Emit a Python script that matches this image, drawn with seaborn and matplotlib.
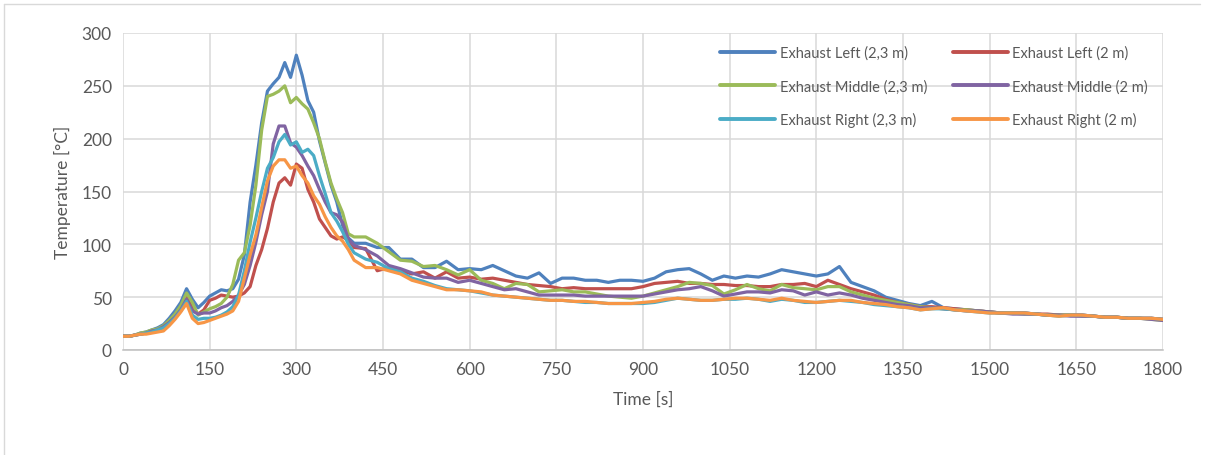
import numpy as np
import pandas as pd
import matplotlib
matplotlib.use("Agg")
import matplotlib.pyplot as plt
import seaborn as sns

# time axis: 10 s steps up to 400 s, 20 s steps after that
time_s = list(range(0, 401, 10)) + list(range(420, 1801, 20))

left_23 = [13, 13, 14, 16, 17, 19, 21, 24, 30, 37, 45, 58, 48, 40, 45, 51, 54, 57, 56, 58,
           67, 90, 140, 175, 215, 245, 252, 258, 272, 258, 279, 260, 236, 225, 198, 177, 156, 140, 118, 106,
           101,
           101, 97, 97, 86, 86, 78, 78, 84, 76, 77, 76, 80, 75, 70, 68, 73, 63, 68, 68, 66,
           66, 64, 66, 66, 65, 68, 74, 76, 77, 72, 66, 70, 68, 70, 69, 72, 76, 74, 72, 70,
           72, 79, 64, 60, 56, 50, 47, 44, 42, 46, 40, 39, 38, 37, 36, 35, 35, 35, 34, 33,
           33, 33, 33, 32, 31, 31, 30, 30, 30, 29]

left_2 = [13, 13, 14, 15, 16, 18, 19, 22, 27, 33, 40, 50, 40, 34, 38, 47, 49, 52, 51, 50,
          51, 54, 60, 80, 95, 115, 140, 158, 163, 156, 176, 172, 152, 140, 124, 116, 108, 105, 107, 104,
          97,
          96, 75, 78, 75, 72, 74, 68, 74, 68, 69, 67, 68, 66, 64, 62, 61, 60, 58, 59, 58,
          58, 58, 58, 58, 60, 63, 64, 65, 63, 63, 62, 62, 61, 61, 60, 60, 62, 62, 63, 60,
          66, 62, 58, 55, 52, 48, 45, 43, 41, 41, 40, 39, 38, 37, 36, 35, 35, 35, 34, 34,
          33, 33, 33, 32, 31, 31, 30, 30, 30, 29]

middle_23 = [13, 13, 14, 16, 17, 19, 20, 23, 28, 34, 42, 54, 45, 33, 36, 39, 41, 44, 50, 62,
             85, 92, 118, 156, 208, 240, 242, 245, 250, 234, 239, 233, 228, 215, 200, 178, 158, 143, 130, 110,
             107,
             107, 101, 93, 85, 84, 79, 80, 76, 71, 76, 66, 63, 58, 63, 62, 55, 56, 57, 55, 55,
             53, 51, 50, 49, 51, 54, 57, 60, 64, 63, 61, 53, 57, 62, 58, 56, 62, 59, 58, 57,
             60, 60, 55, 52, 49, 47, 45, 43, 41, 40, 39, 38, 38, 37, 36, 35, 35, 34, 34, 33,
             33, 33, 32, 32, 31, 31, 30, 30, 29, 28]

middle_2 = [13, 13, 14, 15, 16, 18, 19, 22, 26, 31, 38, 48, 37, 34, 35, 35, 37, 40, 42, 46,
            52, 62, 80, 102, 128, 150, 195, 212, 212, 196, 192, 184, 174, 165, 152, 140, 130, 128, 121, 105,
            99,
            95, 89, 80, 77, 73, 69, 68, 68, 64, 66, 63, 60, 57, 58, 55, 52, 52, 52, 52, 51,
            51, 51, 51, 51, 51, 53, 55, 57, 58, 60, 56, 51, 53, 55, 55, 54, 57, 56, 52, 55,
            52, 54, 52, 49, 47, 45, 43, 42, 40, 40, 39, 38, 37, 37, 36, 35, 34, 34, 34, 33,
            33, 32, 32, 32, 31, 31, 30, 30, 29, 28]

right_23 = [13, 13, 14, 15, 16, 17, 19, 21, 25, 30, 37, 46, 33, 29, 30, 30, 31, 33, 36, 41,
            52, 75, 102, 125, 150, 172, 182, 197, 204, 194, 197, 187, 190, 184, 165, 148, 130, 122, 112, 100,
            92,
            86, 83, 77, 74, 68, 65, 61, 58, 57, 56, 54, 52, 51, 50, 49, 48, 47, 47, 46, 45,
            45, 44, 44, 44, 44, 45, 47, 49, 48, 47, 47, 48, 48, 49, 48, 46, 48, 47, 45, 45,
            46, 47, 46, 45, 43, 42, 41, 40, 38, 39, 39, 38, 37, 36, 35, 35, 35, 35, 34, 33,
            32, 33, 33, 32, 31, 31, 30, 30, 30, 29]

right_2 = [13, 13, 14, 15, 15, 16, 17, 18, 23, 29, 36, 44, 30, 25, 26, 28, 30, 32, 34, 37,
           46, 68, 90, 109, 135, 160, 174, 180, 180, 172, 174, 165, 158, 146, 138, 126, 116, 108, 103, 95,
           85,
           78, 78, 75, 72, 66, 63, 60, 57, 57, 56, 55, 52, 51, 50, 49, 48, 47, 47, 46, 46,
           45, 44, 44, 44, 45, 46, 48, 49, 48, 47, 47, 48, 49, 49, 48, 47, 49, 47, 46, 45,
           46, 47, 47, 45, 44, 43, 41, 40, 38, 39, 40, 38, 37, 36, 35, 35, 35, 35, 34, 33,
           32, 33, 33, 32, 31, 31, 30, 30, 30, 29]

series_names = ['Exhaust Left (2,3 m)', 'Exhaust Left (2 m)',
                'Exhaust Middle (2,3 m)', 'Exhaust Middle (2 m)',
                'Exhaust Right (2,3 m)', 'Exhaust Right (2 m)']
series_values = [left_23, left_2, middle_23, middle_2, right_23, right_2]
colors = ['#4F81BD', '#C0504D', '#9BBB59', '#8064A2', '#4BACC6', '#F79646']

for name, vals in zip(series_names, series_values):
    assert len(vals) == len(time_s), (name, len(vals), len(time_s))

frames = []
for name, vals in zip(series_names, series_values):
    frames.append(pd.DataFrame({'Time': time_s, 'Temp': vals, 'Series': name}))
df = pd.concat(frames, ignore_index=True)

sns.set_style('white')
plt.rcParams['font.family'] = ['Lato', 'DejaVu Sans']

fig = plt.figure(figsize=(12.08, 4.56), dpi=100)
ax = fig.add_axes([123 / 1208, 1 - 351 / 456, 1040 / 1208, 317 / 456])

sns.lineplot(data=df, x='Time', y='Temp', hue='Series', hue_order=series_names,
             palette=colors, linewidth=2.3, ax=ax, legend=True)

ax.set_xlim(0, 1800)
ax.set_ylim(0, 300)
ax.set_xticks(np.arange(0, 1801, 150))
ax.set_yticks(np.arange(0, 301, 50))
ax.grid(True, color='#D9D9D9', linewidth=1.1)
ax.set_axisbelow(True)
for side in ['top', 'right', 'left']:
    ax.spines[side].set_visible(False)
ax.spines['bottom'].set_color('#BFBFBF')
ax.spines['bottom'].set_linewidth(1.1)
ax.tick_params(length=0, labelsize=12.5, labelcolor='#595959', pad=8)

ax.set_xlabel('Time [s]', fontsize=12.5, color='#595959', labelpad=10)
ax.set_ylabel('Temperature [°C]', fontsize=12.5, color='#595959', labelpad=8)

# legend reads row by row: reorder so matplotlib's column fill matches
handles, labels = ax.get_legend_handles_labels()
order = [0, 2, 4, 1, 3, 5]
leg = ax.legend([handles[i] for i in order], [labels[i] for i in order],
                ncol=2, loc='upper left', bbox_to_anchor=(0.574, 0.96),
                borderaxespad=0, borderpad=0, frameon=False,
                fontsize=10.5, handlelength=3.8, columnspacing=1.75, labelspacing=1.3,
                handletextpad=0.3)
for t in leg.get_texts():
    t.set_color('#595959')
for h in leg.get_lines():
    h.set_linewidth(2.8)

# thin chart-area border (top and left edges visible in the reference)
fig.add_artist(plt.Line2D([4 / 1208, 4 / 1208], [0, 1 - 5 / 456], transform=fig.transFigure,
                          color='#D9D9D9', linewidth=1))
fig.add_artist(plt.Line2D([4 / 1208, 1200 / 1208], [1 - 5 / 456, 1 - 5 / 456], transform=fig.transFigure,
                          color='#D9D9D9', linewidth=1))

fig.savefig('out.png', dpi=100)
